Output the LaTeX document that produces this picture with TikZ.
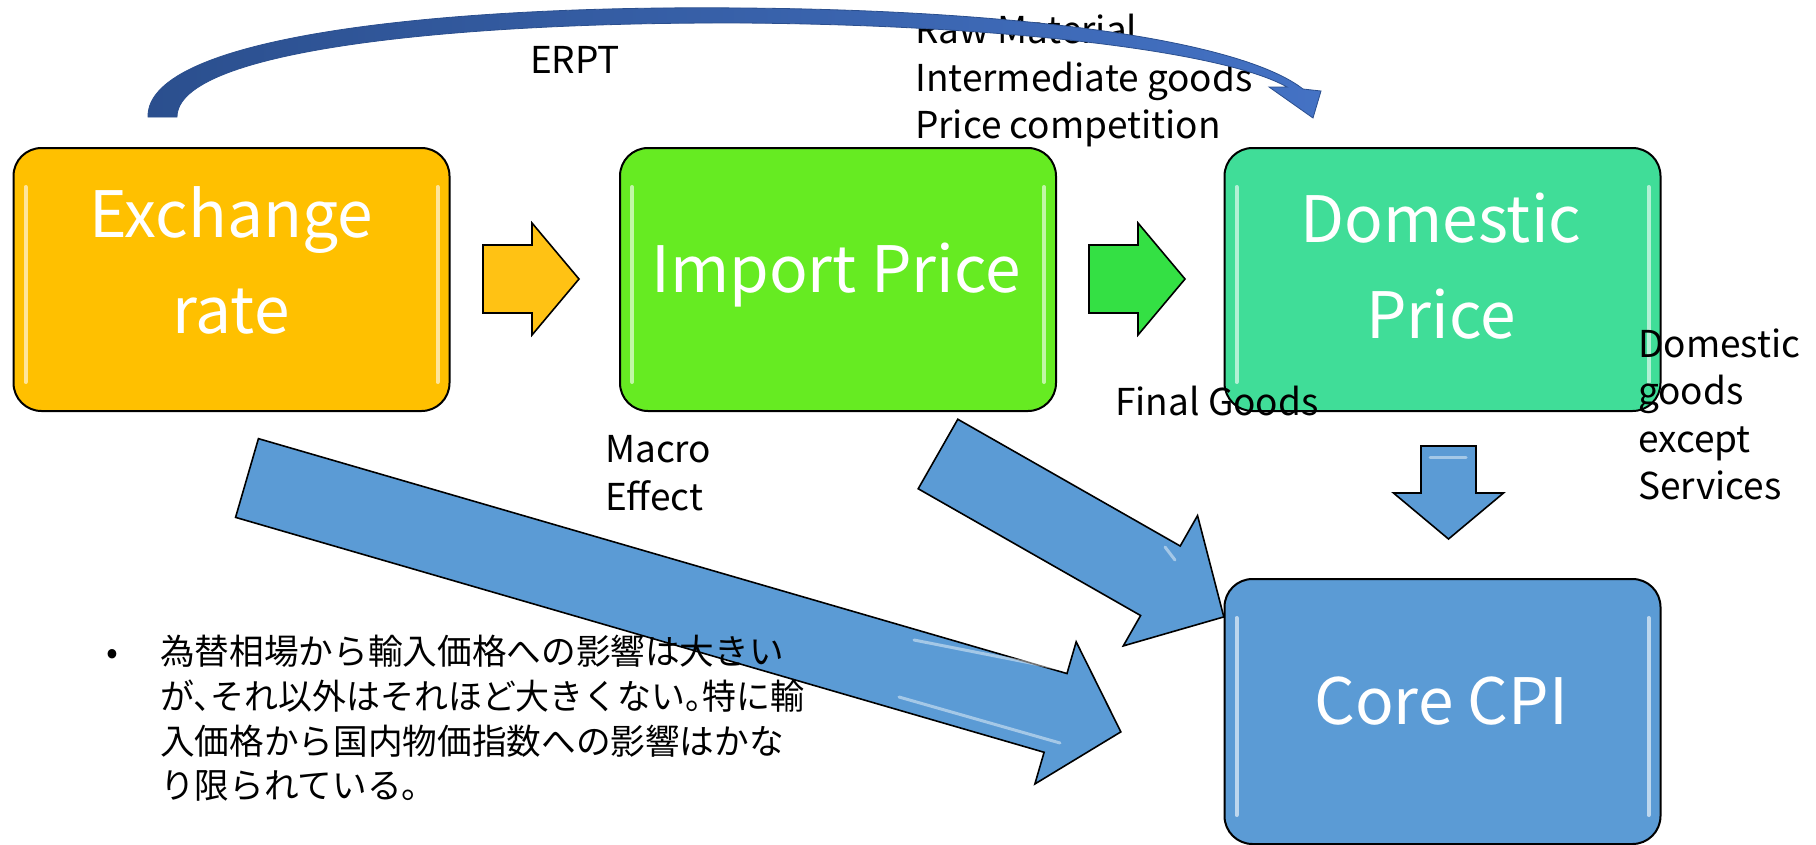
\documentclass[tikz,border=0pt]{standalone}
\usepackage{fontspec}
\setmainfont{Noto Sans CJK JP}
\usetikzlibrary{calc}

\definecolor{gold}{HTML}{FFC000}
\definecolor{goldarr}{HTML}{FFC214}
\definecolor{lime}{HTML}{66EB22}
\definecolor{mint}{HTML}{40DD98}
\definecolor{garr}{HTML}{34E044}
\definecolor{cblue}{HTML}{5B9BD5}
\definecolor{dblue}{HTML}{2B4F8E}
\definecolor{mblue}{HTML}{4472C4}

\newcommand\blockarr[7]{% #1 tail, #2 angle, #3 length, #4 half shaft, #5 half head, #6 head length, #7 style
  \begin{scope}[shift={#1},rotate=#2]
    \path[#7] (0,-#4) -- ({#3-#6},-#4) -- ({#3-#6},-#5) -- (#3,0) -- ({#3-#6},#5) -- ({#3-#6},#4) -- (0,#4) -- cycle;
  \end{scope}}

\tikzset{
  box/.style={draw=black, line width=2pt, rounded corners=28pt, inner sep=0pt,
              minimum width=436pt, minimum height=263pt},
  boxtext/.style={text=white, font=\fontsize{64}{76}\selectfont, inner sep=0pt, anchor=base},
  lbl/.style={text=black, font=\fontsize{37}{44}\selectfont, inner sep=0pt, anchor=base west},
  jp/.style={text=black, font=\fontsize{35}{44}\selectfont, inner sep=0pt, anchor=base west},
  arrstyle/.style={draw=black, line width=1.6pt, line join=miter},
  gloss/.style={white, opacity=0.6, line width=4pt, line cap=round},
}

\begin{document}
\begin{tikzpicture}[x=1pt, y=-1pt]
\useasboundingbox (0,0) rectangle (1816,844);
\fill[white] (0,0) rectangle (1816,844);

% boxes
\node[box, fill=gold] (ex) at (231.5,279.5) {};
\node[box, fill=lime] (im) at (838,279.5) {};
\node[box, fill=mint] (dom) at (1442.5,279.5) {};
\node[box, fill=cblue, minimum height=265pt] (cpi) at (1442.5,711.5) {};

% gloss highlights
\foreach \b in {ex,im,dom,cpi}{
  \draw[gloss] ($(\b.north west)+(13,40)$) -- ($(\b.south west)+(13,-30)$);
  \draw[gloss] ($(\b.north east)+(-13,40)$) -- ($(\b.south east)+(-13,-30)$);
}

% box texts
\node[boxtext] (exT1) at (231,237) {Exchange};
\node[boxtext] (exT2) at (231,333) {rate};
\node[boxtext] (imT) at (836,292) {Import Price};
\node[boxtext] (domT1) at (1441,242) {Domestic};
\node[boxtext] (domT2) at (1441,338) {Price};
\node[boxtext] (cpiT) at (1441,724) {Core CPI};

% block arrows
\blockarr{(483,279)}{0}{96}{34}{56}{47}{arrstyle, fill=goldarr}
\blockarr{(1089,279)}{0}{96}{34}{56}{47}{arrstyle, fill=garr}
\blockarr{(1448.5,446)}{-90}{93}{27.5}{55}{46}{arrstyle, fill=cblue}
\blockarr{(938,454)}{-29.68}{329}{40}{75}{73}{arrstyle, fill=cblue}
\blockarr{(247,478)}{-16.2}{910}{41}{74}{68}{arrstyle, fill=cblue}

% arrow highlights
\draw[gloss, opacity=0.45, line width=3pt] (914,640) -- (1066,670);
\draw[gloss, opacity=0.45, line width=3pt] (899,697) -- (1060,743);
\draw[gloss, opacity=0.45, line width=3pt] (1165,547) -- (1175,560);
\draw[gloss, opacity=0.45, line width=3pt] (1430,457) -- (1466,457);

% labels
\node[lbl] (erpt) at (530,73) {ERPT};
\node[lbl] (raw) at (915,43) {Raw Material};
\node[lbl] (inter) at (915,91) {Intermediate goods};
\node[lbl] (comp) at (915,138) {Price competition};
\node[lbl] (final) at (1115,415) {Final Goods};
\node[lbl] (macro1) at (605,462) {Macro};
\node[lbl] (macro2) at (605,510) {Effect};
\node[lbl] (dg1) at (1638,357) {Domestic};
\node[lbl] (dg2) at (1638,404) {goods};
\node[lbl] (dg3) at (1638,452) {except};
\node[lbl] (dg4) at (1638,499) {Services};

% japanese note
\node[jp] (bullet) at (106,664) {•};
\node[jp] (jp1) at (160,664) {\scalebox{0.99}[1]{為替相場から輸入価格への影響は大きい}};
\node[jp] (jp2) at (160,709) {\scalebox{0.97}[1]{が、\kern-0.5em それ以外はそれほど大きくない。\kern-0.5em 特に輸}};
\node[jp] (jp3) at (160,754) {\scalebox{0.99}[1]{入価格から国内物価指数への影響はかな}};
\node[jp] (jp4) at (160,798) {\scalebox{0.99}[1]{り限られている。}};

% curved ERPT arrow
\path[left color=dblue, right color=mblue, draw=dblue, line width=0.8pt]
  (148,117) .. controls (146,35) and (450,5) .. (741,8)
  .. controls (1020,10) and (1240,40) .. (1303,89)
  -- (1321,91) -- (1313,118) -- (1269,87) -- (1287,87)
  .. controls (1225,52) and (1010,25) .. (741,23)
  .. controls (455,22) and (177,50) .. (177,117) -- cycle;
\end{tikzpicture}
\end{document}
